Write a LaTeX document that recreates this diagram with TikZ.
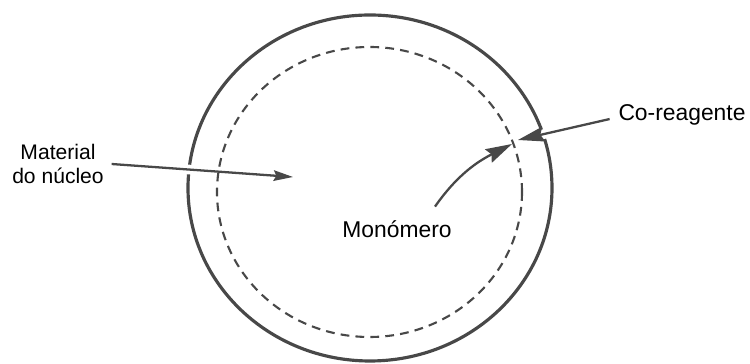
\documentclass[tikz,border=0pt]{standalone}
\usepackage{fontspec}
\setmainfont{Liberation Sans}
\usetikzlibrary{arrows.meta}
\definecolor{inkgray}{RGB}{72,72,72}

\begin{document}
\begin{tikzpicture}[
    txt/.style={font=\fontsize{13}{15}\selectfont, inner sep=2pt},
    pointer/.style={draw=inkgray, line width=1.3pt, -{Stealth[length=15pt, width=8.5pt, inset=2pt]},
        preaction={draw=white, line width=5.5pt, -}},
]
\useasboundingbox (0,0) rectangle (15,7.28);
% Draw capsule wall
\draw[inkgray, line width=1.8pt] (7.4,3.52) ellipse [x radius=3.64, y radius=3.46];
% Add labels
\node[txt, align=center, font=\fontsize{12}{13.6}\selectfont] (core) at (1.16,4.0) {Material\\do núcleo};
\node[txt] (mono) at (7.94,2.7) {Monómero};
\node[txt] (coreag) at (13.64,4.98) {Co-reagente};
% Arrow tips
\coordinate (coretip) at (5.86,3.74);
\coordinate (walltip) at (10.36,4.48);
\coordinate (monotip) at (10.24,4.40);
% Draw arrows
\draw[pointer, -{Stealth[length=11pt, width=6pt, inset=1.5pt]}] ([xshift=0.08cm]core.east) -- (coretip);
\draw[pointer] ([xshift=-0.1cm, yshift=-2.3pt]coreag.west) -- (walltip);
\draw[pointer] ([xshift=0.76cm, yshift=0.2cm]mono.north) to[out=55, in=207] (monotip);
% Draw dashed inner boundary
\draw[inkgray, line width=1.2pt, dash pattern=on 5pt off 3.5pt] (7.39,3.44) ellipse [x radius=3.05, y radius=2.9];
\end{tikzpicture}
\end{document}
